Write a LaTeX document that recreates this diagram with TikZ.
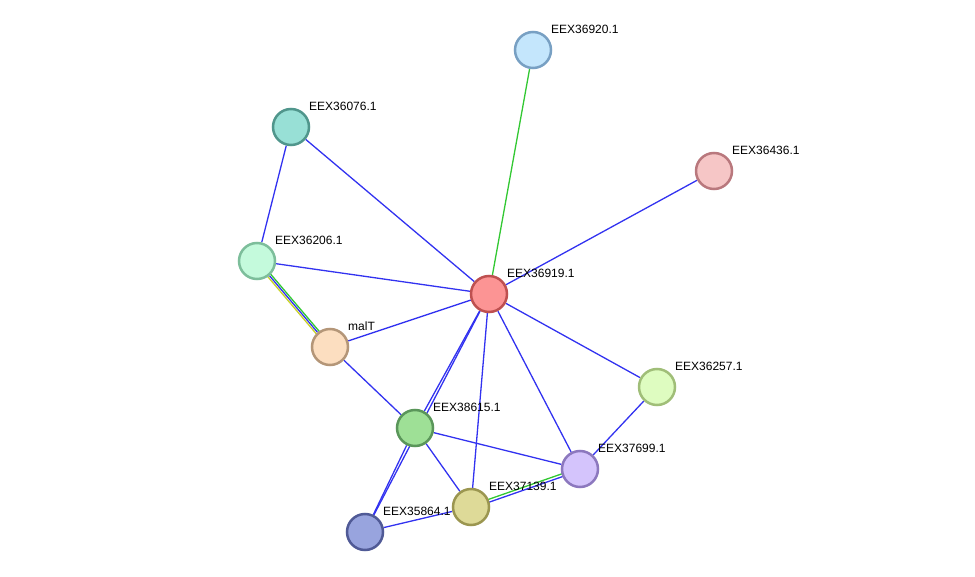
\documentclass[tikz,border=0pt]{standalone}
\usepackage{fontspec}
\setmainfont{Liberation Sans}
\usetikzlibrary{positioning,backgrounds}

\definecolor{eblue}{RGB}{50,50,240}
\definecolor{egreen}{RGB}{50,200,50}
\definecolor{eyellow}{RGB}{200,210,40}

\tikzset{
    prot/.style={circle, minimum size=36pt, inner sep=0pt, line width=2.5pt},
    tag/.style={font=\fontsize{12}{14}\selectfont, inner sep=1pt, anchor=south west},
    blue edge/.style={eblue, line width=1.3pt},
    green edge/.style={egreen, line width=1.3pt},
    yellow edge/.style={eyellow, line width=1.3pt}
}

\begin{document}
\begin{tikzpicture}[x=1pt, y=-1pt]
    \useasboundingbox (0,0) rectangle (975,577);
    % proteins
    \node[prot, fill={rgb,255:red,196;green,230;blue,252}, draw={rgb,255:red,120;green,160;blue,195}] (n20) at (533,50) {};
    \node[prot, fill={rgb,255:red,152;green,224;blue,214}, draw={rgb,255:red,80;green,150;blue,140}] (n76) at (291,127) {};
    \node[prot, fill={rgb,255:red,246;green,198;blue,198}, draw={rgb,255:red,185;green,120;blue,125}] (n36) at (714,171) {};
    \node[prot, fill={rgb,255:red,196;green,250;blue,220}, draw={rgb,255:red,125;green,190;blue,155}] (n06) at (257,261) {};
    \node[prot, fill={rgb,255:red,252;green,148;blue,148}, draw={rgb,255:red,190;green,80;blue,80}] (n19) at (489,294) {};
    \node[prot, fill={rgb,255:red,252;green,222;blue,192}, draw={rgb,255:red,180;green,150;blue,120}] (nmt) at (330,347) {};
    \node[prot, fill={rgb,255:red,222;green,252;blue,192}, draw={rgb,255:red,160;green,190;blue,120}] (n57) at (657,387) {};
    \node[prot, fill={rgb,255:red,158;green,224;blue,150}, draw={rgb,255:red,90;green,150;blue,90}] (n15) at (415,428) {};
    \node[prot, fill={rgb,255:red,212;green,196;blue,252}, draw={rgb,255:red,140;green,120;blue,190}] (n99) at (580,469) {};
    \node[prot, fill={rgb,255:red,222;green,218;blue,152}, draw={rgb,255:red,155;green,150;blue,80}] (n39) at (471,507) {};
    \node[prot, fill={rgb,255:red,152;green,164;blue,222}, draw={rgb,255:red,80;green,90;blue,150}] (n64) at (365,532) {};
    % edges
    \begin{scope}[on background layer]
    \draw[green edge] (n20) -- (n19);
    \draw[blue edge] (n76) -- (n19);
    \draw[blue edge] (n76) -- (n06);
    \draw[blue edge] (n36) -- (n19);
    \draw[blue edge] (n06) -- (n19);
    \draw[yellow edge] ([xshift=-2.5pt]n06.center) -- ([xshift=-2.5pt]nmt.center);
    \draw[blue edge] (n06) -- (nmt);
    \draw[green edge] ([xshift=2.5pt]n06.center) -- ([xshift=2.5pt]nmt.center);
    \draw[blue edge] (nmt) -- (n19);
    \draw[blue edge] (nmt) -- (n15);
    \draw[blue edge] (n19) -- (n57);
    \draw[blue edge] (n19) -- (n99);
    \draw[blue edge] (n19) -- (n39);
    \draw[blue edge] (n19) -- (n15);
    \draw[blue edge] (n19) -- (n64);
    \draw[blue edge] (n15) -- (n64);
    \draw[blue edge] (n15) -- (n99);
    \draw[blue edge] (n15) -- (n39);
    \draw[green edge] ([yshift=1.5pt]n99.center) -- ([yshift=1.5pt]n39.center);
    \draw[blue edge] ([yshift=-1.5pt]n99.center) -- ([yshift=-1.5pt]n39.center);
    \draw[blue edge] (n57) -- (n99);
    \draw[blue edge] (n64) -- (n39);
    \end{scope}
    % labels
    \node[tag] at ([xshift=17pt,yshift=15pt]n20.center) {EEX36920.1};
    \node[tag] at ([xshift=17pt,yshift=15pt]n76.center) {EEX36076.1};
    \node[tag] at ([xshift=17pt,yshift=15pt]n36.center) {EEX36436.1};
    \node[tag] at ([xshift=17pt,yshift=15pt]n06.center) {EEX36206.1};
    \node[tag] at ([xshift=17pt,yshift=15pt]n19.center) {EEX36919.1};
    \node[tag] at ([xshift=17pt,yshift=15pt]nmt.center) {malT};
    \node[tag] at ([xshift=17pt,yshift=15pt]n57.center) {EEX36257.1};
    \node[tag] at ([xshift=17pt,yshift=15pt]n15.center) {EEX38615.1};
    \node[tag] at ([xshift=17pt,yshift=15pt]n99.center) {EEX37699.1};
    \node[tag] at ([xshift=17pt,yshift=15pt]n39.center) {EEX37139.1};
    \node[tag] at ([xshift=17pt,yshift=15pt]n64.center) {EEX35864.1};
\end{tikzpicture}
\end{document}
